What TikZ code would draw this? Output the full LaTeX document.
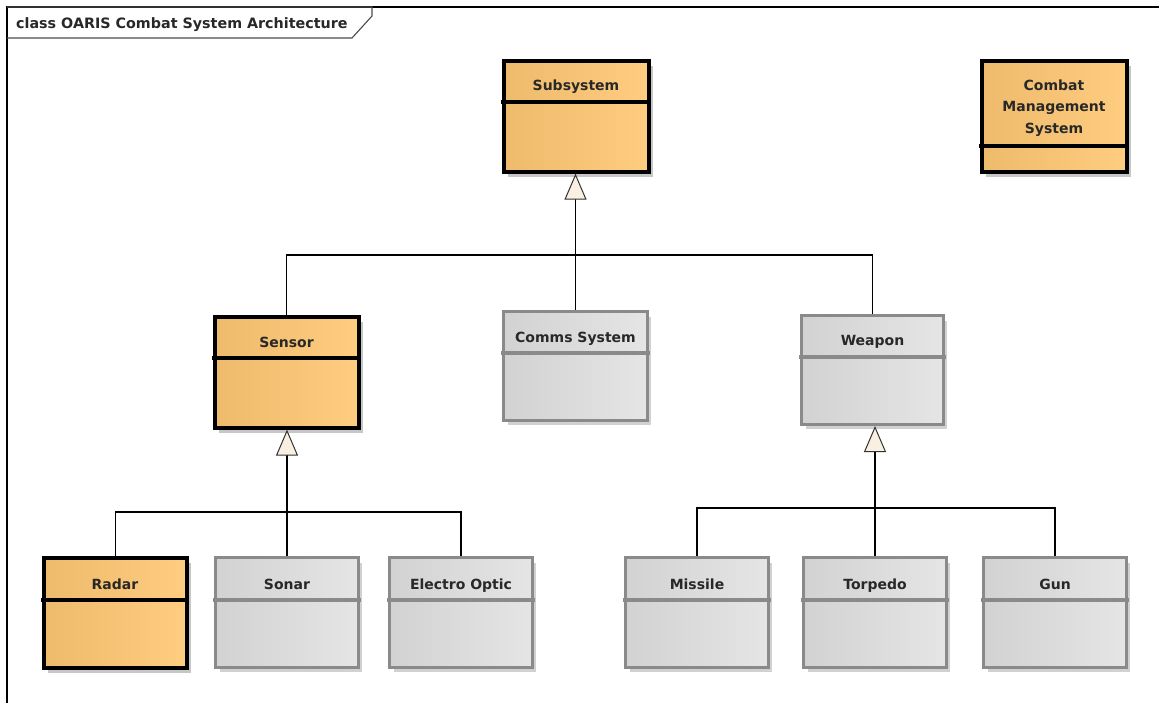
\documentclass[tikz,border=0pt]{standalone}
\usepackage{fontspec}
\setmainfont{DejaVu Sans}
\usetikzlibrary{arrows.meta,shadows,calc}
\definecolor{oL}{RGB}{238,186,108}
\definecolor{oR}{RGB}{255,205,128}
\definecolor{gL}{RGB}{210,210,210}
\definecolor{gR}{RGB}{229,229,229}
\definecolor{gB}{RGB}{138,138,138}
\definecolor{cream}{RGB}{250,240,225}
\definecolor{txt}{RGB}{40,40,40}
\tikzset{
  orangecls/.style={rectangle, draw=black, line width=4pt, left color=oL, right color=oR,
    inner sep=0pt,
    drop shadow={shadow xshift=4pt, shadow yshift=-5pt, fill=black!22, opacity=1}},
  greycls/.style={rectangle, draw=gB, line width=3.4pt, left color=gL, right color=gR,
    inner sep=0pt,
    drop shadow={shadow xshift=4pt, shadow yshift=-5pt, fill=black!18, opacity=1}},
  orangeclsdiv/.style={draw=black, line width=4pt},
  greyclsdiv/.style={draw=gB, line width=3.4pt},
  clstext/.style={font=\fontsize{14pt}{21.5pt}\selectfont\bfseries, text=txt, inner sep=0pt, align=center},
  genline/.style={draw=black, line width=1.1pt},
  genarrow/.style={genline, -{Triangle[width=22pt, length=26pt, fill=cream, color=black!80, line width=1pt]}},
  framestyle/.style={draw=black, line width=1.1pt},
  tabstyle/.style={draw=black!70, line width=1.1pt},
}
% #1 name, #2 style, #3 left, #4 top, #5 right, #6 bottom, #7 divider y, #8 text y (baseline), #9 text
\newcommand{\umlcls}[9]{%
  \node[#2, minimum width={#5-#3-3.4}, minimum height={#6-#4-3.4}, anchor=north west]
     (#1) at (#3,#4) {};
  \draw[#2div] ({#3-1},#7) -- ({#5+1},#7);
  \node[clstext, anchor=base] (#1-t) at ({(#3+#5)/2},#8) {#9};
}
\begin{document}
\begin{tikzpicture}[x=1pt,y=-1pt]
\useasboundingbox (0,0) rectangle (1159,702);
\fill[white] (0,0) rectangle (1159,702);
% frame
\draw[framestyle] (7,703) -- (7,7) -- (1160,7);
\draw[tabstyle] (7,7) -- (372,7) -- (372,16) -- (352,38) -- (7,38);
\node[font=\fontsize{14.3pt}{17pt}\selectfont\bfseries, text=txt, anchor=base west, inner sep=0pt] (title) at (16,28.5) {class OARIS Combat System Architecture};
% classes
\umlcls{subsystem}{orangecls}{502}{59}{650}{173}{102}{90}{Subsystem}
\node[orangecls, minimum width={1128-980-3.4}, minimum height={173-59-3.4}, anchor=north west] (cms) at (980,59) {};
\draw[orangeclsdiv] (979,146) -- (1129,146);
\node[clstext, anchor=center] (cms-t) at (1054,108) {Combat\\Management\\System};
\umlcls{sensor}{orangecls}{213}{315}{360}{429}{358}{347}{Sensor}
\umlcls{comms}{greycls}{502}{310}{649}{422}{353}{342}{Comms System}
\umlcls{weapon}{greycls}{800}{314}{945}{426}{357}{345}{Weapon}
\umlcls{radar}{orangecls}{42}{556}{188}{669}{600}{589}{Radar}
\umlcls{sonar}{greycls}{214}{556}{360}{669}{600}{589}{Sonar}
\umlcls{electro}{greycls}{388}{556}{534}{669}{600}{589}{Electro Optic}
\umlcls{missile}{greycls}{624}{556}{770}{669}{600}{589}{Missile}
\umlcls{torpedo}{greycls}{802}{556}{948}{669}{600}{589}{Torpedo}
\umlcls{gun}{greycls}{982}{556}{1128}{669}{600}{589}{Gun}
% generalisations: top level
\coordinate (j1) at (comms.north |- 0,255);
\draw[genline] (sensor.north) |- (j1) -| (weapon.north);
\draw[genline] (comms.north) -- (j1);
\draw[genarrow] (j1) -- (j1 |- subsystem.south);
% sensor subtree
\coordinate (j2) at (sonar.north |- 0,512);
\draw[genline] (radar.north) |- (j2) -| (electro.north);
\draw[genline] (sonar.north) -- (j2);
\draw[genarrow] (j2) -- (j2 |- sensor.south);
% weapon subtree
\coordinate (j3) at (torpedo.north |- 0,508);
\draw[genline] (missile.north) |- (j3) -| (gun.north);
\draw[genline] (torpedo.north) -- (j3);
\draw[genarrow] (j3) -- (j3 |- weapon.south);
\end{tikzpicture}
\end{document}
